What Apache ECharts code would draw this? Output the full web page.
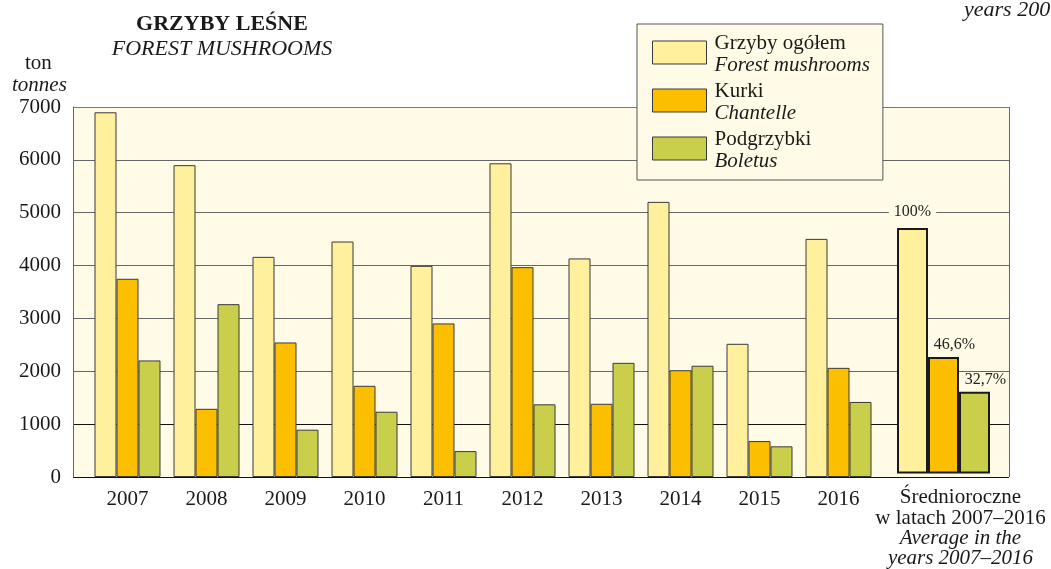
<!DOCTYPE html>
<html>
<head>
<meta charset="utf-8">
<script src="https://cdn.jsdelivr.net/npm/echarts@6/dist/echarts.min.js"></script>
<style>html,body{margin:0;padding:0;background:#fff;}#c{width:1051px;height:569px;}</style>
</head>
<body>
<div id="c"></div>
<script>
const years = ['2007','2008','2009','2010','2011','2012','2013','2014','2015','2016'];
const avgCategory = ['Średnioroczne\nw latach 2007–2016\nAverage in the\nyears 2007–2016'];
const totalMushrooms = [6900, 5900, 4165, 4455, 3995, 5935, 4135, 5205, 2520, 4505];
const chantelle = [3750, 1290, 2545, 1725, 2905, 3970, 1385, 2020, 680, 2065];
const boletus = [2205, 3270, 895, 1235, 490, 1375, 2160, 2105, 580, 1420];
const avgValues = [4690, 2225, 1560];
const avgPctLabels = ['100%', '46,6%', '32,7%'];
const yTicks = [0, 1000, 2000, 3000, 4000, 5000, 6000, 7000];
const seriesNames = ['Grzyby ogółem', 'Kurki', 'Podgrzybki'];
const seriesNamesEn = ['Forest mushrooms', 'Chantelle', 'Boletus'];

const colors = ['#fef09c', '#fbbf00', '#c9cf4a'];
const FONT = '"Liberation Serif", "DejaVu Serif", serif';
const BG = '#fffbe6';

const chart = echarts.init(document.getElementById('c'), null, {renderer: 'canvas'});

const yMin = yTicks[0], yMax = yTicks[yTicks.length - 1], yInt = yTicks[1] - yTicks[0];

const series = [];
[totalMushrooms, chantelle, boletus].forEach((arr, i) => {
  series.push({
    type: 'bar', name: seriesNames[i], xAxisIndex: 1, yAxisIndex: 1,
    data: arr, barWidth: 22, barGap: '0%',
    itemStyle: {color: colors[i], borderColor: '#3a3a3a', borderWidth: 1},
    z: 3
  });
});
avgValues.forEach((v, i) => {
  series.push({
    type: 'bar', name: seriesNames[i], xAxisIndex: 2, yAxisIndex: 2,
    data: [v],
    barWidth: 31, barGap: '0%',
    itemStyle: {color: colors[i], borderColor: '#1a1a1a', borderWidth: 2},
    label: {
      show: true, position: 'top', formatter: avgPctLabels[i],
      fontFamily: FONT, fontSize: 16, color: '#222',
      distance: i === 0 ? 8 : 4,
      offset: i === 0 ? [0, 0] : [11, 0],
      backgroundColor: i === 0 ? BG : 'transparent',
      padding: i === 0 ? [0, 5] : 0
    },
    z: 3
  });
});

const option = {
  animation: false,
  backgroundColor: '#ffffff',
  title: {
    text: 'GRZYBY LEŚNE', subtext: 'FOREST MUSHROOMS',
    left: 217, top: 8, textAlign: 'center', itemGap: 3,
    textStyle: {fontFamily: FONT, fontSize: 22, fontWeight: 'bold', color: '#1a1a1a'},
    subtextStyle: {fontFamily: FONT, fontSize: 22, fontStyle: 'italic', color: '#1a1a1a'}
  },
  legend: {
    orient: 'vertical', left: 637, top: 24,
    backgroundColor: BG, borderColor: '#555', borderWidth: 1,
    padding: [9, 13, 8, 15],
    itemWidth: 54, itemHeight: 23, itemGap: 5,
    icon: 'rect',
    selectedMode: false,
    data: seriesNames.map(n => ({name: n, itemStyle: {borderColor: '#3a3a3a', borderWidth: 1}})),
    formatter: function (name) {
      const i = seriesNames.indexOf(name);
      return '{a|' + name + '}\n{b|' + seriesNamesEn[i] + '}';
    },
    textStyle: {
      padding: [4, 0, 0, 3],
      rich: {
        a: {fontFamily: FONT, fontSize: 21, color: '#1a1a1a', lineHeight: 22},
        b: {fontFamily: FONT, fontSize: 21, fontStyle: 'italic', color: '#1a1a1a', lineHeight: 22}
      }
    }
  },
  graphic: [
    {type: 'text', left: 25, top: 53, style: {text: 'ton', font: '21px ' + FONT, fill: '#1a1a1a'}},
    {type: 'text', left: 12, top: 75, style: {text: 'tonnes', font: 'italic 21px ' + FONT, fill: '#1a1a1a'}},
    {type: 'text', left: 964, top: -1, style: {text: 'years 2007–2016', font: 'italic 22px ' + FONT, fill: '#1a1a1a'}}
  ],
  grid: [
    {left: 73, right: 42, top: 107, bottom: 92, show: true, backgroundColor: BG, borderWidth: 0},
    {left: 88, right: 173, top: 107, bottom: 92},
    {left: 878, right: 42, top: 107, bottom: 92}
  ],
  xAxis: [
    {gridIndex: 0, type: 'value', min: 0, max: 1, show: true,
     axisLine: {show: false}, axisTick: {show: false}, axisLabel: {show: false}, splitLine: {show: false}},
    {gridIndex: 1, type: 'category', data: years,
     axisLine: {show: false}, axisTick: {show: false},
     axisLabel: {fontFamily: FONT, fontSize: 21, color: '#1a1a1a', margin: 12}},
    {gridIndex: 2, type: 'category', data: avgCategory,
     axisLine: {show: false}, axisTick: {show: false},
     axisLabel: {
       margin: 13, interval: 0, padding: [0, 0, 0, 34],
       formatter: function (v) {
         const p = v.split('\n');
         return '{a|' + p[0] + '}\n{a|' + p[1] + '}\n{b|' + p[2] + '}\n{b|' + p[3] + '}';
       },
       rich: {
         a: {fontFamily: FONT, fontSize: 21, color: '#1a1a1a', lineHeight: 21, align: 'center'},
         b: {fontFamily: FONT, fontSize: 21, fontStyle: 'italic', color: '#1a1a1a', lineHeight: 20, align: 'center'}
       }
     }}
  ],
  yAxis: [
    {gridIndex: 0, type: 'value', min: yMin, max: yMax, interval: yInt,
     axisLine: {show: true, lineStyle: {color: '#666', width: 1}},
     axisTick: {show: false},
     axisLabel: {fontFamily: FONT, fontSize: 21, color: '#1a1a1a', margin: 12,
       formatter: function (v) { return String(v); }},
     splitLine: {show: true, lineStyle: {color: ['#111', '#111', '#666', '#666', '#666', '#666', '#666', '#777'], width: 1}}},
    {gridIndex: 1, type: 'value', min: yMin, max: yMax, interval: yInt, show: false, splitLine: {show: false}},
    {gridIndex: 2, type: 'value', min: yMin, max: yMax, interval: yInt, show: false, splitLine: {show: false}}
  ],
  series: series.concat([
    {type: 'line', xAxisIndex: 0, yAxisIndex: 0, data: [], silent: true,
     markLine: {silent: true, symbol: 'none', label: {show: false},
       lineStyle: {color: '#666', width: 1, type: 'solid'},
       data: [[{coord: [1, yMin]}, {coord: [1, yMax]}]]}}
  ])
};

chart.setOption(option);
</script>
</body>
</html>
